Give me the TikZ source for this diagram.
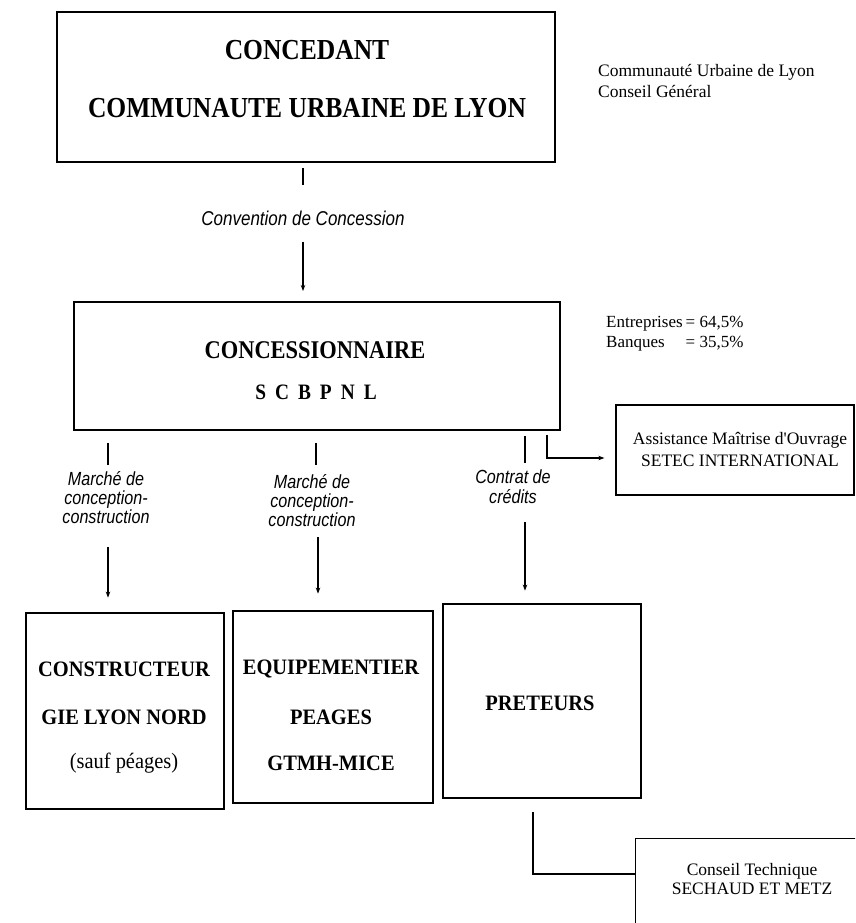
\documentclass[tikz,border=0pt]{standalone}
\usepackage{fontspec}
\setmainfont{Liberation Serif}
\newfontfamily\topf[FakeStretch=0.88]{Liberation Serif}
\newfontfamily\boxf[FakeStretch=0.93]{Liberation Serif}
\newfontfamily\labf[FakeStretch=0.85]{Liberation Sans}
\usetikzlibrary{arrows.meta}
\begin{document}
\begin{tikzpicture}[x=1pt,y=-1pt,
  box/.style={draw, line width=2.4pt, inner sep=0pt},
  bbox/.style={draw, line width=2.8pt, inner sep=0pt},
  thinbox/.style={draw, line width=1.3pt, inner sep=0pt},
  conn/.style={line width=1.1pt},
  arr/.style={line width=1.1pt, -{Stealth[length=6pt,width=4.5pt]}},
  bigtxt/.style={font=\topf\bfseries\fontsize{29}{29}\selectfont, inner sep=0pt},
  midtxt/.style={font=\topf\bfseries\fontsize{25.5}{25.5}\selectfont, inner sep=0pt},
  btxt/.style={font=\boxf\bfseries\fontsize{22}{22}\selectfont, inner sep=0pt},
  rtxt/.style={font=\boxf\fontsize{22}{22}\selectfont, inner sep=0pt},
  side/.style={font=\fontsize{17.5}{21}\selectfont, align=left, inner sep=0pt},
  small/.style={font=\fontsize{17.5}{22}\selectfont, align=center, inner sep=0pt},
  lab/.style={font=\labf\itshape\fontsize{19}{19}\selectfont, align=center, inner sep=0pt}]
\useasboundingbox (0,0) rectangle (855,923);
\fill[white] (0,0) rectangle (855,923);
\clip (0,0) rectangle (855,923);

% Concedant
\node[box, minimum width=498pt, minimum height=150pt] (A) at (306,87) {};
\node[bigtxt] (a1) at (307,50) {CONCEDANT};
\node[bigtxt] (a2) at (307,108) {COMMUNAUTE URBAINE DE LYON};
\node[side, anchor=west] (cu) at (598,81) {Communaut\'e Urbaine de Lyon\\Conseil G\'en\'eral};

% Convention
\node[lab, font=\labf\itshape\fontsize{20}{20}\selectfont] (conv) at (303,218) {Convention de Concession};

% Concessionnaire
\node[box, line width=2pt, minimum width=486pt, minimum height=128pt] (B) at (317,366) {};
\node[midtxt] (b1) at (315,350) {CONCESSIONNAIRE};
\node[midtxt, font=\topf\bfseries\fontsize{22}{22}\selectfont] (b2) at (316,392) {S\hspace{9pt}C\hspace{9pt}B\hspace{9pt}P\hspace{9pt}N\hspace{9pt}L};
\node[anchor=west, inner sep=0pt, font=\fontsize{17}{20}\selectfont] (ent) at (606,333)
  {\begin{tabular}{@{}l@{\hspace{3pt}}l@{}}Entreprises & = 64,5\%\\ Banques & = 35,5\%\end{tabular}};

\coordinate (t0a) at (303,168); \coordinate (t0b) at (303,185);
\draw[conn] (t0a) -- (t0b);
\coordinate (r0) at (303,242);
\draw[arr, shorten >=10pt] (r0) -- (r0 |- B.north);

% Setec
\node[thinbox, minimum width=238pt, minimum height=90pt] (S) at (735,450) {};
\node[small] (s1) at (740,449) {Assistance Ma\^itrise d\textquotesingle Ouvrage\\SETEC INTERNATIONAL};

% labels
\node[lab] (l1) at (106,498) {March\'e de\\conception-\\construction};
\node[lab] (l2) at (312,501) {March\'e de\\conception-\\construction};
\node[lab, font=\labf\itshape\fontsize{19}{20}\selectfont] (l3) at (513,487) {Contrat de\\cr\'edits};

% bottom boxes
\node[bbox, minimum width=198pt, minimum height=196pt] (C1) at (125,711) {};
\node[bbox, minimum width=200pt, minimum height=192pt] (C2) at (333,707) {};
\node[bbox, minimum width=198pt, minimum height=194pt] (C3) at (542,701) {};
\node[btxt] at (124,669) {CONSTRUCTEUR};
\node[btxt] at (124,717) {GIE LYON NORD};
\node[rtxt] at (124,763) {(sauf p\'eages)};
\node[btxt] at (331,669) {EQUIPEMENTIER};
\node[btxt] at (331,717) {PEAGES};
\node[btxt] at (331,763) {GTMH-MICE};
\node[btxt] at (540,703) {PRETEURS};

% ticks and arrows
\coordinate (t1a) at (108,443); \coordinate (t1b) at (108,465);
\coordinate (t2a) at (316,443); \coordinate (t2b) at (316,465);
\coordinate (t3a) at (525,436); \coordinate (t3b) at (525,463);
\draw[conn] (t1a) -- (t1b);
\draw[conn] (t2a) -- (t2b);
\draw[conn] (t3a) -- (t3b);
\coordinate (r1) at (108,547);
\coordinate (r2) at (318,537);
\coordinate (r3) at (525,522);
\draw[arr, shorten >=14pt] (r1) -- (r1 |- C1.north);
\draw[arr, shorten >=16pt] (r2) -- (r2 |- C2.north);
\draw[arr, shorten >=12pt] (r3) -- (r3 |- C3.north);

\coordinate (e1) at (547,435);
\draw[arr, shorten >=11pt] (e1) |- ([yshift=-8pt]S.west);

% Conseil technique
\node[thinbox, minimum width=246pt, minimum height=112pt, anchor=north west] (T) at (635,838) {};
\node[small, font=\fontsize{17.5}{19}\selectfont] (t1) at (752,879) {Conseil Technique\\SECHAUD ET METZ};
\coordinate (p1) at (533,812);
\draw[conn] (p1) |- ([yshift=-36pt]T.north west);
\end{tikzpicture}
\end{document}
